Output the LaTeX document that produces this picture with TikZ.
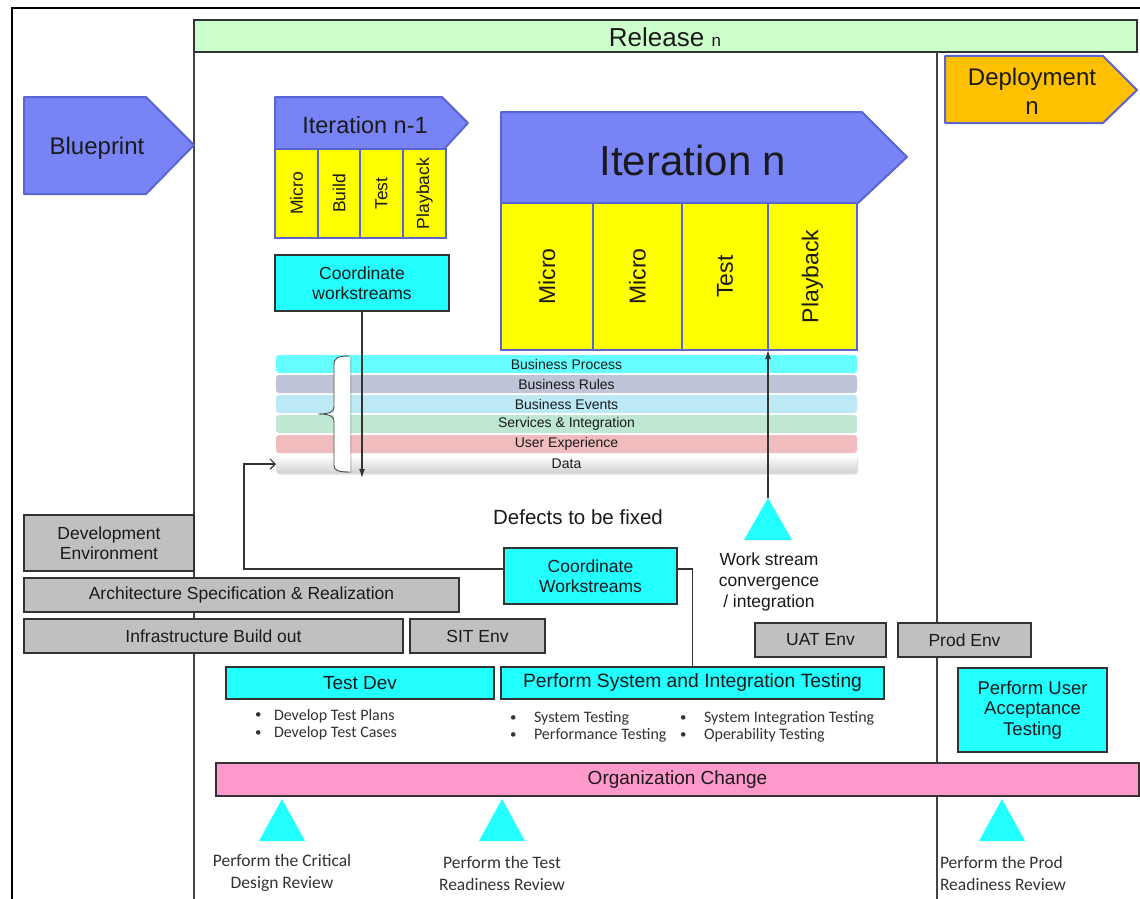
\documentclass[tikz,border=0pt]{standalone}
\usepackage{fontspec}
\usepackage{graphicx}
\setmainfont{Liberation Sans}
\newfontfamily\calfont{Carlito}
\usetikzlibrary{arrows.meta,shadows}
\newcommand{\myfs}[2]{\fontsize{#1}{#2}\selectfont}
\newcommand{\smbul}{\raisebox{0.15ex}{\scalebox{0.8}{\textbullet}}}
\definecolor{blueF}{HTML}{7884F6}
\definecolor{blueD}{HTML}{5A64D2}
\definecolor{yel}{HTML}{FFFF00}
\definecolor{cyanF}{HTML}{22FFFF}
\definecolor{grayF}{HTML}{C0C0C0}
\definecolor{relG}{HTML}{CCFFCC}
\definecolor{pinkF}{HTML}{FF99CC}
\definecolor{orgF}{HTML}{FFC000}
\definecolor{lnC}{HTML}{333333}
\definecolor{laneC}{HTML}{444444}
\definecolor{bpC}{HTML}{66FFFF}
\definecolor{brC}{HTML}{C0C4D8}
\definecolor{beC}{HTML}{BDE9F7}
\definecolor{bsC}{HTML}{BFE8D3}
\definecolor{buC}{HTML}{F0BCBE}
\definecolor{txt}{HTML}{1A1A1A}
\definecolor{txtB}{HTML}{333333}
\begin{document}
\begin{tikzpicture}[x=1pt,y=-1pt,
  every node/.style={inner sep=0pt, outer sep=0pt, text=txt, font={\myfs{17.5pt}{20pt}}},
  pent/.style={fill=blueF, draw=blueD, line width=2pt, line join=round},
  cell/.style={rectangle, fill=yel, draw=blueD, line width=2pt, anchor=north west},
  gbox/.style={rectangle, fill=grayF, draw=lnC, line width=1.3pt, anchor=north west, align=center},
  cbox/.style={rectangle, fill=cyanF, draw=lnC, line width=1.3pt, anchor=north west, align=center},
  layer/.style={rectangle, rounded corners=3pt, anchor=north west, minimum width=581pt, minimum height=18pt, font={\myfs{14pt}{15pt}}},
  conn/.style={draw=lnC, line width=1.2pt},
  lane/.style={draw=laneC, line width=1.5pt},
  bnote/.style={anchor=west, align=left, text=txtB, font={\calfont\myfs{16pt}{17.5pt}}},
  review/.style={align=center, text=txtB, font={\calfont\myfs{17.5pt}{22pt}}}
]
\useasboundingbox (0,0) rectangle (1140,899);
\fill[white] (0,0) rectangle (1140,899);
% frame
\draw[black, line width=1.5pt] (12,899) -- (12,8) -- (1140,8);
% release bar and lanes
\node[rectangle, fill=relG, draw=lnC, line width=1.5pt, anchor=north west, minimum width=943pt, minimum height=32pt] (rel) at (194,20) {};
\node (relt) at (665,37) {\myfs{26pt}{28pt}Release \myfs{17pt}{18pt}n};
\draw[lane] (194,52) -- (194,899);
\draw[lane] (937,52) -- (937,899);

% Blueprint
\path[pent] (24,97) -- (146,97) -- (194,145) -- (146,194) -- (24,194) -- cycle;
\node[font={\myfs{24pt}{26pt}}] (bpt) at (97,148) {Blueprint};

% Iteration n-1
\path[pent] (275,97) -- (442,97) -- (468,123) -- (444,149) -- (275,149) -- cycle;
\node[font={\myfs{23.5pt}{25pt}}] (itn1) at (365,125) {Iteration n-1};
\node[cell, minimum width=43pt, minimum height=89pt] (a1) at (275,149) {\rotatebox{90}{Micro}};
\node[cell, minimum width=42pt, minimum height=89pt] (a2) at (318,149) {\rotatebox{90}{Build}};
\node[cell, minimum width=43pt, minimum height=89pt] (a3) at (360,149) {\rotatebox{90}{Test}};
\node[cell, minimum width=43pt, minimum height=89pt] (a4) at (403,149) {\rotatebox{90}{Playback}};

% Iteration n
\path[pent] (501,112) -- (862,112) -- (907,157) -- (858,203) -- (501,203) -- cycle;
\node[font={\myfs{42pt}{46pt}}] (itn) at (693,160) {Iteration n};
\node[cell, minimum width=92pt, minimum height=147pt, font={\myfs{23pt}{26pt}}] (b1) at (501,203) {\rotatebox{90}{Micro}};
\node[cell, minimum width=89pt, minimum height=147pt, font={\myfs{23pt}{26pt}}] (b2) at (593,203) {\rotatebox{90}{Micro}};
\node[cell, minimum width=86pt, minimum height=147pt, font={\myfs{23pt}{26pt}}] (b3) at (682,203) {\rotatebox{90}{Test}};
\node[cell, minimum width=89pt, minimum height=147pt, font={\myfs{23pt}{26pt}}] (b4) at (768,203) {\rotatebox{90}{Playback}};

% Deployment
\path[pent, fill=orgF] (945,56) -- (1103,56) -- (1137,90) -- (1103,123) -- (945,123) -- cycle;
\node[font={\myfs{24pt}{29pt}}, align=center] (dep) at (1032,91) {Deployment\\n};

% coordinate workstreams (top)
\node[cbox, minimum width=174pt, minimum height=56pt] (cw1) at (275,255) {Coordinate\\workstreams};

% layers
\node[layer, fill=bpC] (lbp) at (276,355) {Business Process};
\node[layer, fill=brC] (lbr) at (276,375) {Business Rules};
\node[layer, fill=beC] (lbe) at (276,395) {Business Events};
\node[layer, fill=bsC] (lbs) at (276,415) {Services \& Integration};
\node[layer, fill=buC] (lbu) at (276,435) {User Experience};
\node[layer, top color=white, bottom color=gray!35, drop shadow={opacity=0.25, shadow xshift=1pt, shadow yshift=-1.5pt}] (data) at (276,455) {Data};

% brace
\path[fill=white, drop shadow={opacity=0.3, shadow xshift=1.5pt, shadow yshift=-1pt}] (334,362) .. controls (334,357) and (340,356) .. (350,356) -- (350,472) .. controls (340,472) and (334,471) .. (334,466) -- cycle;
\draw[draw=gray!60!black, line width=0.9pt] (350,356) .. controls (337,356) and (334,358) .. (334,365) -- (334,407) .. controls (334,412) and (329,414) .. (318,414) .. controls (329,414) and (334,416) .. (334,421) -- (334,465) .. controls (334,470) and (337,472) .. (350,472);

% text
\node[font={\myfs{20.5pt}{24pt}}] (def) at (578,517) {Defects to be fixed};
\node[align=center, font={\myfs{17.5pt}{21pt}}] (wsc) at (769,582) {Work stream\\convergence\\/ integration};

% gray boxes
\node[gbox, minimum width=170pt, minimum height=56pt] (dev) at (24,515) {Development\\Environment};
\node[gbox, minimum width=435pt, minimum height=34pt] (arch) at (24,578) {Architecture Specification \& Realization};
\node[gbox, minimum width=379pt, minimum height=34pt] (infra) at (24,619) {Infrastructure Build out};
\node[gbox, minimum width=135pt, minimum height=34pt] (sit) at (410,619) {SIT Env};
\node[gbox, minimum width=131pt, minimum height=34pt] (uat) at (755,623) {UAT Env};
\node[gbox, minimum width=133pt, minimum height=34pt] (prod) at (898,623) {Prod Env};

% cyan boxes
\node[cbox, minimum width=173pt, minimum height=56pt] (cw2) at (504,548) {Coordinate\\Workstreams};
\node[cbox, minimum width=268pt, minimum height=32pt, font={\myfs{19pt}{21pt}}] (tdev) at (226,667) {Test Dev};
\node[cbox, minimum width=383pt, minimum height=32pt, font={\myfs{19.3pt}{21pt}}] (psit) at (501,667) {Perform System and Integration Testing};
\node[cbox, minimum width=149pt, minimum height=84pt, font={\myfs{18.5pt}{20.5pt}}] (puat) at (958,668) {Perform User\\Acceptance\\Testing};

% bullet notes
\node[bnote] (n1) at (255,724.5) {\makebox[19pt][l]{\smbul}Develop Test Plans\\\makebox[19pt][l]{\smbul}Develop Test Cases};
\node[bnote] (n2) at (510,727) {\makebox[24pt][l]{\smbul}System Testing\\\makebox[24pt][l]{\smbul}Performance Testing};
\node[bnote] (n3) at (680,727) {\makebox[24pt][l]{\smbul}System Integration Testing\\\makebox[24pt][l]{\smbul}Operability Testing};

% organization change
\node[rectangle, fill=pinkF, draw=lnC, line width=1.3pt, anchor=north west, minimum width=923pt, minimum height=33pt, font={\myfs{19pt}{22pt}}] (org) at (216,763) {Organization Change};

% triangles
\coordinate (t1apex) at (768,498);
\fill[cyanF] (t1apex) -- (792,540) -- (744,540) -- cycle;
\coordinate (t2apex) at (282,799);
\fill[cyanF] (t2apex) -- (305,841) -- (259,841) -- cycle;
\coordinate (t3apex) at (502,799);
\fill[cyanF] (t3apex) -- (525,841) -- (479,841) -- cycle;
\coordinate (t4apex) at (1002,799);
\fill[cyanF] (t4apex) -- (1025,841) -- (979,841) -- cycle;

\node[review] (r1) at (282,873) {Perform the Critical\\Design Review};
\node[review] (r2) at (502,873) {Perform the Test\\Readiness Review};
\node[review, align=left, anchor=west] (r3) at (940,873) {Perform the Prod\\Readiness Review};

% connectors
\coordinate (dnend) at (362,478);
\draw[conn, -{Latex[length=9pt,width=6pt]}] (cw1.south) -- (dnend);
\draw[conn, -{Latex[length=9pt,width=6pt]}] (t1apex) -- (b3.south east);
\coordinate (fbk) at (244,464);
\draw[conn, -{Straight Barb[length=5pt,width=10pt]}] ([yshift=7pt]cw2.west) -| (fbk) -- (data.west);
\draw[conn] ([yshift=7pt]cw2.east) -| (psit.north);
\end{tikzpicture}
\end{document}
